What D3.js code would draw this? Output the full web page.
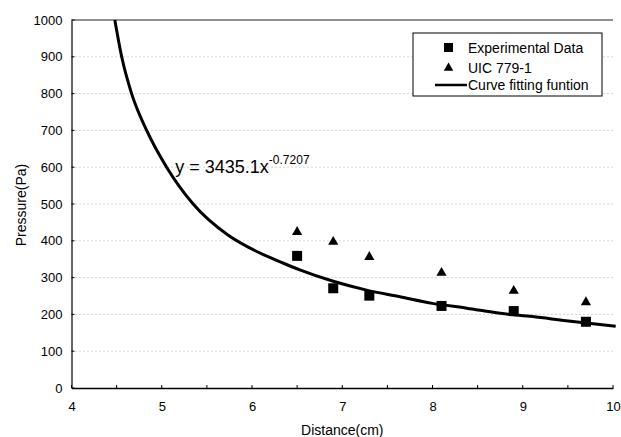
<!DOCTYPE html>
<html>
<head>
<meta charset="utf-8">
<script src="https://cdn.jsdelivr.net/npm/d3@7"></script>
<style>
  body { margin: 0; background: #fff; }
  text { font-family: "Liberation Sans", Arial, sans-serif; fill: #000; }
</style>
</head>
<body>
<div id="chart"></div>
<script>
// values
let expX = [6.5, 6.9, 7.3, 8.1, 8.9, 9.7];
let expY = [359, 271, 251, 223, 209, 180];
let uicX = [6.5, 6.9, 7.3, 8.1, 8.9, 9.7];
let uicY = [424, 397, 356, 313, 264, 233];
let fitX = [4.48, 4.556, 4.666, 4.833, 5.054, 5.348, 5.733, 5.98, 6.35, 6.53, 6.90, 7.27, 7.64, 8.0, 8.38, 8.75, 9.11, 9.48, 10.03];
let fitY = [1000, 900, 800, 700, 600, 500, 416, 380, 339, 321, 290, 266, 248, 230, 217, 203, 194, 183, 168];
let xTicks = [4, 5, 6, 7, 8, 9, 10];
let xMinorTicks = d3.range(4, 10.01, 0.5);
let yTicks = d3.range(0, 1001, 100);
let legendLabels = ["Experimental Data", "UIC 779-1", "Curve fitting funtion"];

let svgWidth = 621;
let svgHeight = 437;

let margin = { top: 20, right: 8, bottom: 49, left: 71.5 };
let width = svgWidth - margin.left - margin.right;
let height = svgHeight - margin.top - margin.bottom;

let svg = d3.select("#chart")
    .append("svg")
    .attr("width", svgWidth)
    .attr("height", svgHeight);

let g = svg.append("g")
    .attr("transform", `translate(${margin.left}, ${margin.top})`);

let xScale = d3.scaleLinear().domain([4, 10]).range([0, width]);
let yScale = d3.scaleLinear().domain([0, 1000]).range([height, 0]);

// dotted gridlines
g.append("g")
    .selectAll("line")
    .data(yTicks.filter(d => d > 0 && d < 1000))
    .enter()
    .append("line")
    .attr("x1", 0)
    .attr("x2", width)
    .attr("y1", d => yScale(d))
    .attr("y2", d => yScale(d))
    .attr("stroke", "#aaa")
    .attr("stroke-width", 1)
    .attr("stroke-dasharray", "1,3");

// top border
g.append("line")
    .attr("x1", 0).attr("x2", width)
    .attr("y1", yScale(1000)).attr("y2", yScale(1000))
    .attr("stroke", "#222");

// axes
let bottomAxis = d3.axisBottom(xScale).tickValues(xTicks).tickSize(0).tickPadding(14).tickFormat(d3.format("d"));
let leftAxis = d3.axisLeft(yScale).tickValues(yTicks).tickSize(0).tickPadding(9).tickFormat(d3.format("d"));

let xAxisG = g.append("g")
    .attr("transform", `translate(0, ${height})`)
    .call(bottomAxis);
xAxisG.select(".domain").attr("stroke", "#000").attr("stroke-width", 1.5);
xAxisG.selectAll("text").attr("font-size", 13);
xAxisG.selectAll(".minor")
    .data(xMinorTicks)
    .enter()
    .append("line")
    .attr("x1", d => xScale(d)).attr("x2", d => xScale(d))
    .attr("y1", 0).attr("y2", -3)
    .attr("stroke", "#000");

let yAxisG = g.append("g").call(leftAxis);
yAxisG.select(".domain").attr("stroke", "#000").attr("stroke-width", 1.2);
yAxisG.selectAll("text").attr("font-size", 13);
yAxisG.selectAll(".minor")
    .data(yTicks)
    .enter()
    .append("line")
    .attr("x1", 0).attr("x2", 3)
    .attr("y1", d => yScale(d)).attr("y2", d => yScale(d))
    .attr("stroke", "#000");

// fitted curve
let fitData = fitX.map((x, i) => ({ x: x, y: fitY[i] }));
let line = d3.line()
    .x(d => xScale(d.x))
    .y(d => yScale(d.y))
    .curve(d3.curveMonotoneX);

g.append("path")
    .datum(fitData)
    .attr("d", line)
    .attr("fill", "none")
    .attr("stroke", "#000")
    .attr("stroke-width", 3);

// experimental data squares
g.selectAll(".exp")
    .data(expX.map((x, i) => ({ x: x, y: expY[i] })))
    .enter()
    .append("rect")
    .attr("class", "exp")
    .attr("x", d => xScale(d.x) - 5)
    .attr("y", d => yScale(d.y) - 5)
    .attr("width", 10)
    .attr("height", 10)
    .attr("fill", "#000");

// UIC triangles
let tri = d3.symbol().type(d3.symbolTriangle).size(45);
g.selectAll(".uic")
    .data(uicX.map((x, i) => ({ x: x, y: uicY[i] })))
    .enter()
    .append("path")
    .attr("class", "uic")
    .attr("d", tri)
    .attr("transform", d => `translate(${xScale(d.x)}, ${yScale(d.y)})`)
    .attr("fill", "#000");

// equation
let eq = g.append("text")
    .attr("x", xScale(5.15))
    .attr("y", yScale(585))
    .attr("font-size", 18);
eq.append("tspan").text("y = 3435.1x");
eq.append("tspan").attr("dy", -9).attr("font-size", 12).text("-0.7207");

// legend
let legend = svg.append("g").attr("transform", "translate(413, 33)");
legend.append("rect")
    .attr("width", 189)
    .attr("height", 63)
    .attr("fill", "#fff")
    .attr("stroke", "#000");
legend.append("rect").attr("x", 31).attr("y", 10).attr("width", 9).attr("height", 9).attr("fill", "#000");
legend.append("path").attr("d", d3.symbol().type(d3.symbolTriangle).size(40)).attr("transform", "translate(35.5, 35)").attr("fill", "#000");
legend.append("line").attr("x1", 22).attr("x2", 54).attr("y1", 52).attr("y2", 52).attr("stroke", "#000").attr("stroke-width", 2.5);
legend.selectAll(".lbl")
    .data(legendLabels)
    .enter()
    .append("text")
    .attr("x", 55)
    .attr("y", (d, i) => [15, 35, 52][i])
    .attr("dy", "0.35em")
    .attr("font-size", 14)
    .text(d => d);

// axis titles
svg.append("text")
    .attr("x", margin.left + width / 2)
    .attr("y", 435)
    .attr("text-anchor", "middle")
    .attr("font-size", 14)
    .text("Distance(cm)");

svg.append("text")
    .attr("transform", "translate(26, 205) rotate(-90)")
    .attr("text-anchor", "middle")
    .attr("font-size", 14)
    .text("Pressure(Pa)");
</script>
</body>
</html>
